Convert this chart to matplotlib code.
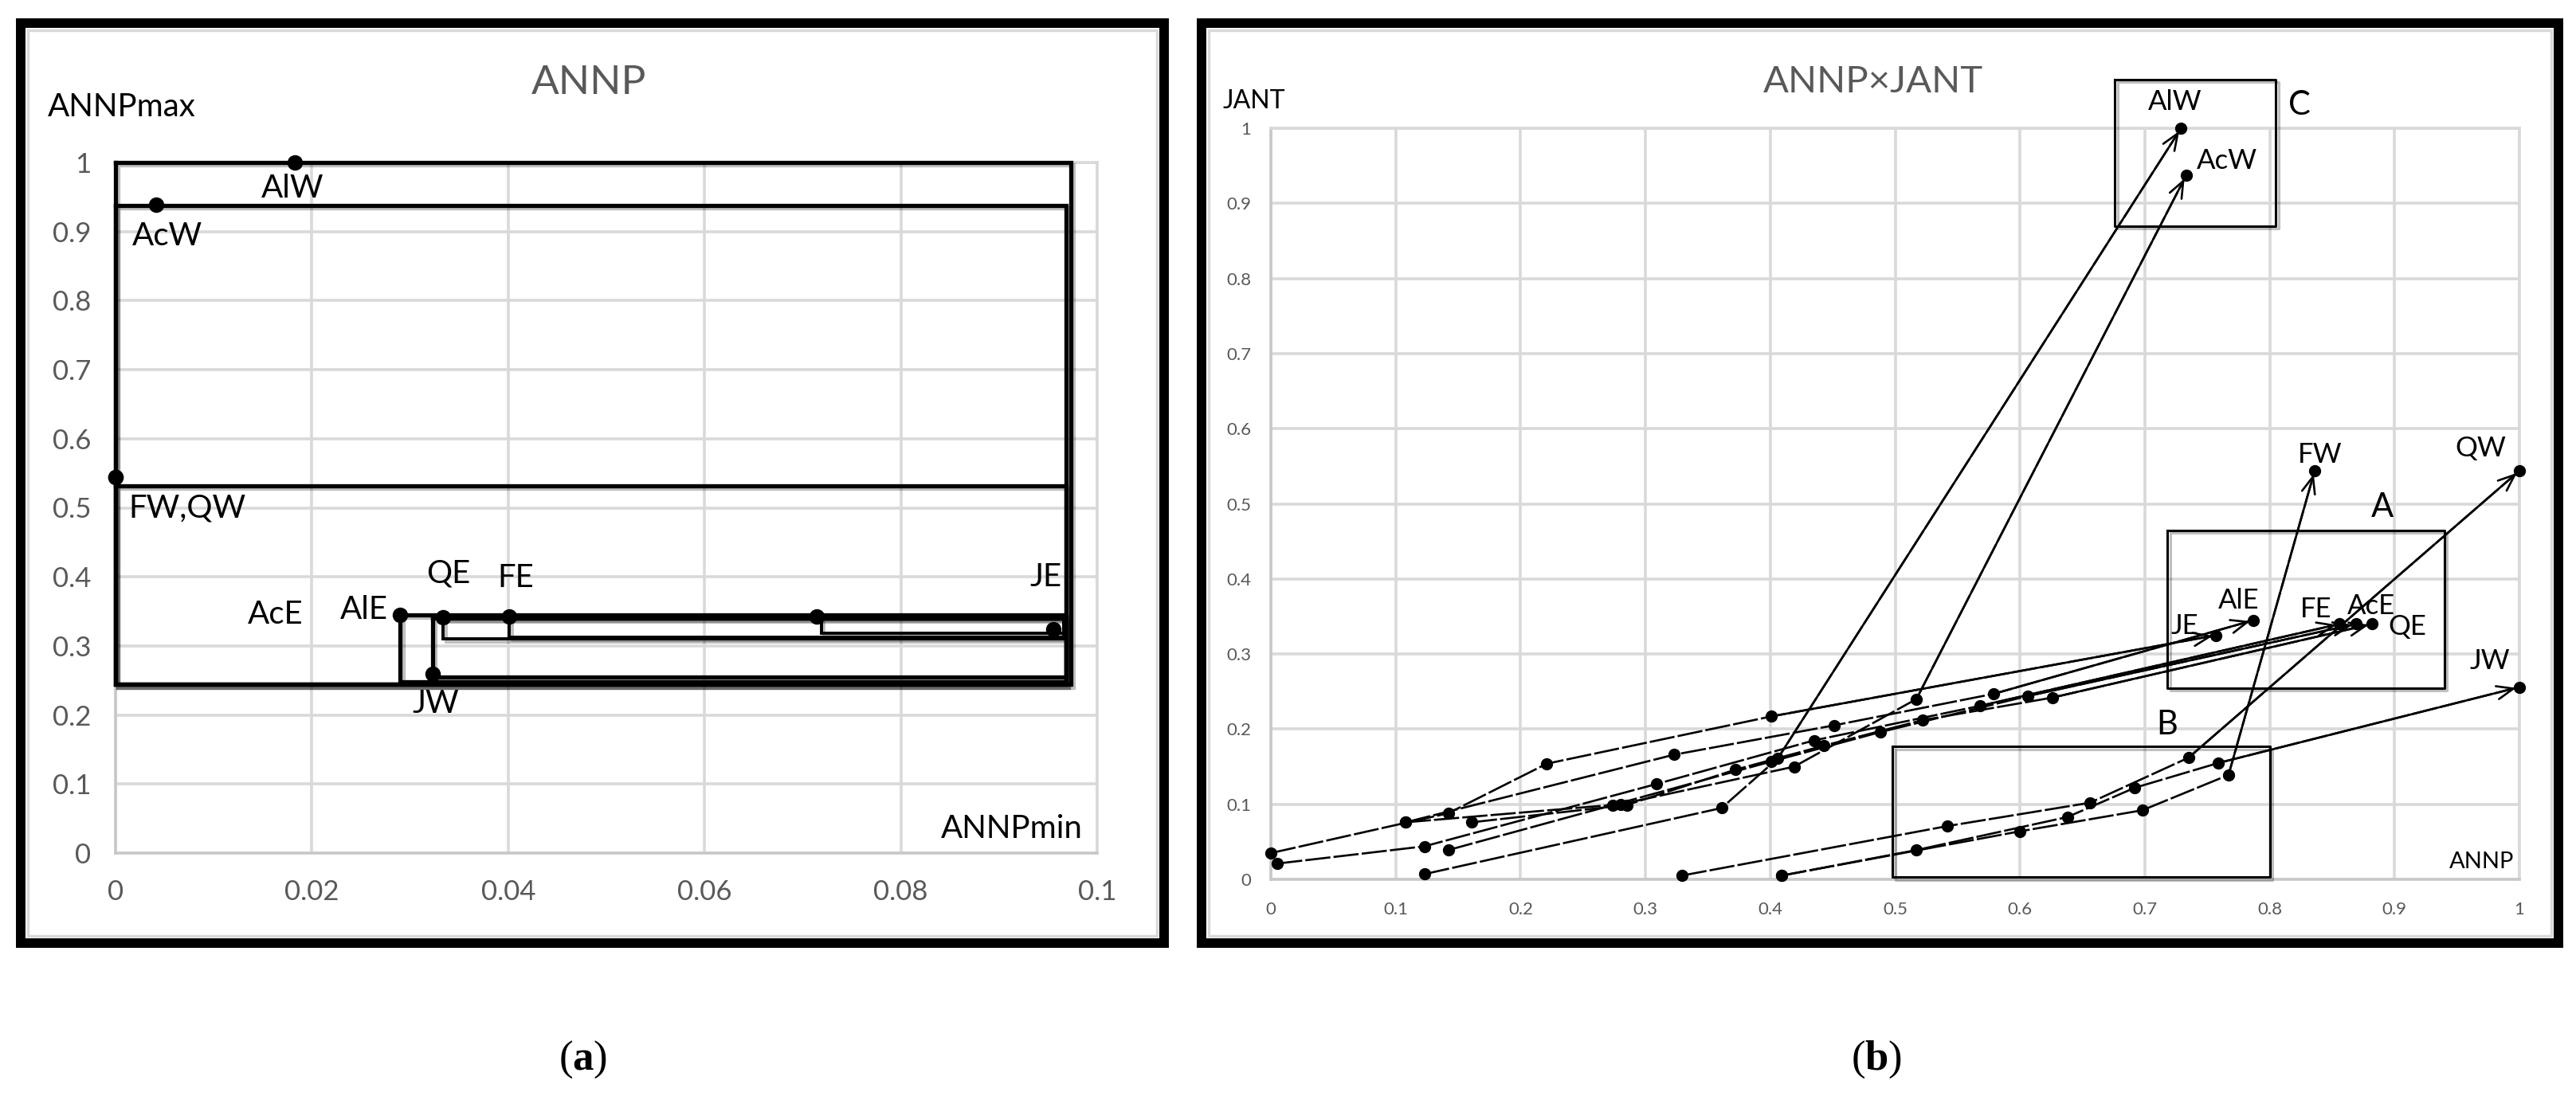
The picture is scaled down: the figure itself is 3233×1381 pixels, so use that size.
import matplotlib
matplotlib.use("Agg")
import matplotlib.pyplot as plt
import matplotlib.patheffects as pe
from matplotlib.patches import Rectangle

plt.rcParams['font.family'] = ['Lato', 'DejaVu Sans']
plt.rcParams['mathtext.fontset'] = 'custom'
plt.rcParams['mathtext.rm'] = 'Liberation Serif'
plt.rcParams['mathtext.bf'] = 'Liberation Serif:bold'

GRIS_TXT = '#595959'
GRIS_GRID = '#d9d9d9'
W, H = 3233, 1381

#===============================================
# Datos panel (a): ANNPmin vs ANNPmax
#===============================================
especies_a = ['AlW', 'AcW', 'FW', 'QW', 'AlE', 'QE', 'FE', 'AcE', 'JE', 'JW']
annp_min = [0.0183, 0.0041, 0.0, 0.0, 0.029, 0.0334, 0.0401, 0.0714, 0.0955, 0.0323]
annp_max = [1.0, 0.939, 0.544, 0.544, 0.345, 0.341, 0.342, 0.342, 0.324, 0.26]

# rectangulos dibujados sobre el panel (a): esquina sup-izq y esquina inf-der
rect_x0 = [0.0, 0.0, 0.0, 0.029, 0.0323, 0.0334, 0.0401, 0.0719]
rect_y0 = [1.0, 0.938, 0.532, 0.345, 0.340, 0.340, 0.342, 0.342]
rect_x1 = [0.0973, 0.0968, 0.0968, 0.0968, 0.0968, 0.0966, 0.0966, 0.0966]
rect_y1 = [0.244, 0.244, 0.244, 0.248, 0.255, 0.310, 0.312, 0.318]

xticks_a = [0, 0.02, 0.04, 0.06, 0.08, 0.1]
xtick_lbl_a = ['0', '0.02', '0.04', '0.06', '0.08', '0.1']
yticks_a = [0, 0.1, 0.2, 0.3, 0.4, 0.5, 0.6, 0.7, 0.8, 0.9, 1]
ytick_lbl_a = ['0', '0.1', '0.2', '0.3', '0.4', '0.5', '0.6', '0.7', '0.8', '0.9', '1']

#===============================================
# Datos panel (b): trayectorias ANNP x JANT
#===============================================
JE_x = [0.0, 0.142, 0.221, 0.401, 0.757]
JE_y = [0.035, 0.088, 0.154, 0.217, 0.325]
AlE_x = [0.108, 0.323, 0.451, 0.579, 0.787]
AlE_y = [0.076, 0.166, 0.205, 0.247, 0.345]
FE_x = [0.005, 0.123, 0.309, 0.435, 0.568, 0.856]
FE_y = [0.021, 0.044, 0.127, 0.185, 0.231, 0.340]
AcE_x = [0.142, 0.274, 0.401, 0.488, 0.606, 0.869]
AcE_y = [0.039, 0.099, 0.157, 0.196, 0.244, 0.340]
QE_x = [0.161, 0.285, 0.372, 0.443, 0.522, 0.626, 0.882]
QE_y = [0.076, 0.099, 0.146, 0.178, 0.212, 0.242, 0.340]
AlW_x = [0.123, 0.361, 0.406, 0.729]
AlW_y = [0.007, 0.095, 0.161, 1.0]
AcW_x = [0.108, 0.28, 0.419, 0.517, 0.733]
AcW_y = [0.076, 0.100, 0.150, 0.240, 0.937]
QW_x = [0.329, 0.542, 0.656, 0.735, 1.0]
QW_y = [0.005, 0.071, 0.102, 0.162, 0.544]
JW_x = [0.409, 0.517, 0.638, 0.692, 0.759, 1.0]
JW_y = [0.005, 0.039, 0.083, 0.122, 0.155, 0.256]
FW_x = [0.409, 0.6, 0.698, 0.767, 0.836]
FW_y = [0.005, 0.064, 0.092, 0.139, 0.544]

trayectorias = [
    ('JE', JE_x, JE_y), ('AlE', AlE_x, AlE_y), ('FE', FE_x, FE_y),
    ('AcE', AcE_x, AcE_y), ('QE', QE_x, QE_y), ('AlW', AlW_x, AlW_y),
    ('AcW', AcW_x, AcW_y), ('QW', QW_x, QW_y), ('JW', JW_x, JW_y),
    ('FW', FW_x, FW_y),
]

# cajas A, B, C (x0, x1, y0, y1)
cajas = {'A': (0.718, 0.94, 0.255, 0.465),
         'B': (0.498, 0.80, 0.003, 0.177),
         'C': (0.676, 0.805, 0.870, 1.065)}

ticks_b = [0, 0.1, 0.2, 0.3, 0.4, 0.5, 0.6, 0.7, 0.8, 0.9, 1]
tick_lbl_b = ['0', '0.1', '0.2', '0.3', '0.4', '0.5', '0.6', '0.7', '0.8', '0.9', '1']


def px(x):
    return x / W


def py(y):
    return 1 - y / H


def estilo_ejes(ax, xt, xl, yt, yl, size, padx, pady):
    ax.set_xticks(xt)
    ax.set_xticklabels(xl)
    ax.set_yticks(yt)
    ax.set_yticklabels(yl)
    ax.tick_params(axis='both', length=0, labelsize=size, labelcolor=GRIS_TXT)
    ax.tick_params(axis='x', pad=padx)
    ax.tick_params(axis='y', pad=pady)
    ax.grid(True, color=GRIS_GRID, lw=2.6)
    ax.set_axisbelow(True)
    for s in ['top', 'right']:
        ax.spines[s].set_color(GRIS_GRID)
        ax.spines[s].set_linewidth(2.6)
    for s in ['bottom', 'left']:
        ax.spines[s].set_color('#c8c8c8')
        ax.spines[s].set_linewidth(2.6)


sombra = [pe.SimpleLineShadow(offset=(2.5, -2.5), shadow_color='k', alpha=0.25), pe.Normal()]

fig = plt.figure(figsize=(W / 100, H / 100), dpi=100)

# ---------------- panel (a) ----------------
ax1 = fig.add_axes([px(145), py(1071), px(1377 - 145), (1071 - 204) / H])
ax1.set_xlim(0, 0.1)
ax1.set_ylim(0, 1)
estilo_ejes(ax1, xticks_a, xtick_lbl_a, yticks_a, ytick_lbl_a, 25, 24, 22)

for i in range(len(rect_x0)):
    lw = 3.8 if i < 5 else 2.8
    xs = [rect_x0[i], rect_x1[i], rect_x1[i], rect_x0[i], rect_x0[i]]
    ys = [rect_y0[i], rect_y0[i], rect_y1[i], rect_y1[i], rect_y0[i]]
    ax1.plot(xs, ys, color='k', lw=lw, clip_on=False, solid_joinstyle='miter',
             path_effects=sombra, zorder=3)

ax1.plot(annp_min, annp_max, 'o', color='k', ms=13, clip_on=False, zorder=4)

etiquetas_a = [('AlW', 0.0180, 0.962), ('AcW', 0.0053, 0.893), ('FW,QW', 0.0073, 0.500),
               ('QE', 0.0339, 0.405), ('FE', 0.0408, 0.398), ('JE', 0.0948, 0.400),
               ('AcE', 0.0163, 0.345), ('AlE', 0.0253, 0.352), ('JW', 0.0326, 0.216)]
for t, x, y in etiquetas_a:
    ax1.text(x, y, t, ha='center', va='center', fontsize=29, color='k', zorder=5)

fig.text(px(739), py(104), 'ANNP', ha='center', va='center', fontsize=37, color=GRIS_TXT)
fig.text(px(60), py(135), 'ANNPmax', ha='left', va='center', fontsize=29, color='k')
fig.text(px(1359), py(1040), 'ANNPmin', ha='right', va='center', fontsize=29, color='k')

# ---------------- panel (b) ----------------
ax2 = fig.add_axes([px(1595), py(1104), px(3162 - 1595), (1104 - 161) / H])
ax2.set_xlim(0, 1)
ax2.set_ylim(0, 1)
estilo_ejes(ax2, ticks_b, tick_lbl_b, ticks_b, tick_lbl_b, 16, 20, 18)

for nombre, xs, ys in trayectorias:
    ax2.plot(xs, ys, color='k', lw=1.9, ls=(0, (12, 1.5)), marker='o', ms=10,
             clip_on=False, zorder=3)
    ax2.annotate('', xy=(xs[-1], ys[-1]), xytext=(xs[-2], ys[-2]),
                 arrowprops=dict(arrowstyle='->,head_length=1.5,head_width=0.6',
                                 color='k', lw=1.9, shrinkA=0, shrinkB=3),
                 zorder=4, annotation_clip=False)

for letra, (x0, x1, y0, y1) in cajas.items():
    ax2.plot([x0, x1, x1, x0, x0], [y1, y1, y0, y0, y1], color='k', lw=2.2,
             clip_on=False, path_effects=sombra, zorder=3)

etiquetas_b = [('AlW', 0.724, 1.035), ('AcW', 0.766, 0.957), ('FW', 0.840, 0.565),
               ('QW', 0.969, 0.574), ('JW', 0.976, 0.291), ('AlE', 0.775, 0.371),
               ('JE', 0.732, 0.337), ('FE', 0.837, 0.360), ('AcE', 0.881, 0.364),
               ('QE', 0.910, 0.336)]
for t, x, y in etiquetas_b:
    ax2.text(x, y, t, ha='center', va='center', fontsize=25, color='k', zorder=5)

pos_letras = {'A': (0.890, 0.495), 'B': (0.718, 0.206), 'C': (0.824, 1.031)}
for letra, (x, y) in pos_letras.items():
    ax2.text(x, y, letra, ha='center', va='center', fontsize=30, color='k', zorder=5)

fig.text(px(2351), py(103), 'ANNP×JANT', ha='center', va='center', fontsize=34, color=GRIS_TXT)
fig.text(px(1535), py(127), 'JANT', ha='left', va='center', fontsize=23, color='k')
fig.text(px(3155), py(1082), 'ANNP', ha='right', va='center', fontsize=21, color='k')

# ---------------- marcos y rotulos ----------------
for x0, x1 in [(26, 1461), (1508, 3211)]:
    fig.add_artist(Rectangle((px(x0), py(1184)), px(x1 - x0), (1184 - 29) / H,
                             transform=fig.transFigure, fill=False, ec='k', lw=8.6))
    fig.add_artist(Rectangle((px(x0 + 9), py(1175)), px(x1 - x0 - 18), (1175 - 38) / H,
                             transform=fig.transFigure, fill=False, ec=GRIS_GRID, lw=2.5))

fig.text(px(732), py(1330), r'($\mathbf{a}$)', ha='center', va='center', fontsize=38,
         family='Liberation Serif')
fig.text(px(2355), py(1330), r'($\mathbf{b}$)', ha='center', va='center', fontsize=38,
         family='Liberation Serif')

fig.savefig('out.png', dpi=100)
